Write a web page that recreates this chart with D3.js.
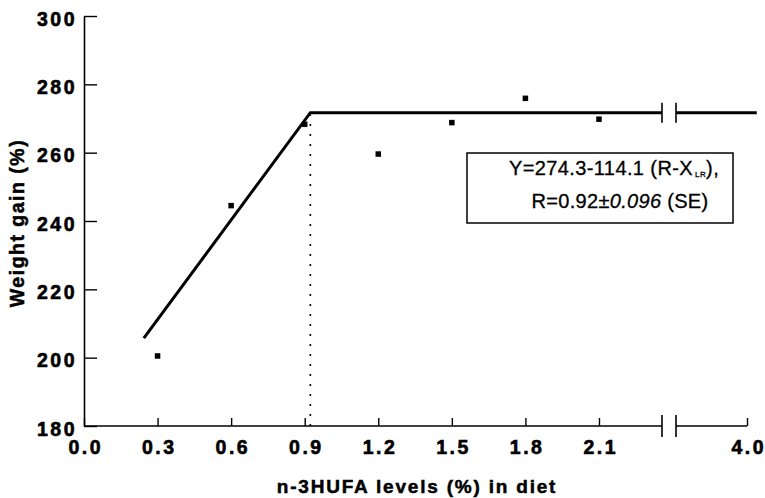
<!DOCTYPE html>
<html>
<head>
<meta charset="utf-8">
<script src="https://cdn.jsdelivr.net/npm/d3@7"></script>
<style>
  html, body { margin: 0; padding: 0; background: #fff; }
  svg { display: block; font-family: "Liberation Sans", Arial, Helvetica, sans-serif; }
</style>
</head>
<body>
<svg id="chart" width="765" height="498"></svg>
<script>
// ---- data ----
const xLevels   = [0.3, 0.6, 0.9, 1.2, 1.5, 1.8, 2.1];
const weightGain = [200.5, 244.5, 268.3, 259.6, 268.8, 275.9, 269.8];
const fitX = [0.244, 0.923, 2.357, null, 3.71, 4.04];
const fitY = [205.7, 271.7, 271.7, null, 271.7, 271.7];
const breakPoint = 0.923;      // X(LR)
const plateau = 271.7;
const axisBreak = [2.357, 3.71];
const xTicks = [0.0, 0.3, 0.6, 0.9, 1.2, 1.5, 1.8, 2.1, 4.0];
const yTicks = [180, 200, 220, 240, 260, 280, 300];
const xTitle = "n-3HUFA levels (%) in diet";
const yTitle = "Weight gain  (%)";

// ---- scales ----
const svg = d3.select("#chart");
const x = d3.scaleLinear()
  .domain([0, axisBreak[0], axisBreak[1], 4.0])
  .range([84, 662, 676, 747]);
const y = d3.scaleLinear().domain([180, 300]).range([426, 16]);

const FONT = "'Liberation Sans', Arial, sans-serif";

// ---- y axis ----
const yAx = svg.append("g").attr("transform", "translate(84,0)")
  .call(d3.axisLeft(y).tickValues(yTicks).tickSizeInner(-13).tickSizeOuter(0).tickPadding(8).tickFormat(d3.format("d")));
yAx.select(".domain").attr("stroke", "#000").attr("stroke-width", 1.6);
yAx.selectAll(".tick line").attr("stroke", "#000").attr("stroke-width", 1.4);
yAx.selectAll(".tick text")
  .attr("fill", "#000").attr("font-weight", "bold")
  .attr("stroke", "#000").attr("stroke-width", 0.6)
  .attr("font-size", "19.5px").attr("letter-spacing", "2.5px")
  .attr("font-family", FONT)
  .attr("dy", 9).attr("x", -7);

// ---- x axis ----
const xAx = svg.append("g").attr("transform", "translate(0,426)")
  .call(d3.axisBottom(x).tickValues(xTicks).tickSizeInner(-8).tickSizeOuter(0).tickFormat(d3.format(".1f")));
xAx.select(".domain").remove();
xAx.selectAll(".tick line").attr("stroke", "#000").attr("stroke-width", 1.4);
xAx.selectAll(".tick text")
  .attr("fill", "#000").attr("font-weight", "bold")
  .attr("stroke", "#000").attr("stroke-width", 0.6)
  .attr("font-size", "19.5px").attr("letter-spacing", "2.5px")
  .attr("font-family", FONT)
  .attr("y", 28).attr("dy", 0).attr("dx", 1.2);
// broken axis line
[[0, axisBreak[0]], [axisBreak[1], 4.0]].forEach(seg => {
  svg.append("line")
    .attr("x1", x(seg[0])).attr("x2", x(seg[1]))
    .attr("y1", y(180)).attr("y2", y(180))
    .attr("stroke", "#000").attr("stroke-width", 1.6);
});
axisBreak.forEach(b => {
  svg.append("line")
    .attr("x1", x(b)).attr("x2", x(b))
    .attr("y1", y(180) - 11).attr("y2", y(180) + 11)
    .attr("stroke", "#000").attr("stroke-width", 1.6);
});

// ---- dotted reference line ----
svg.append("line")
  .attr("x1", x(breakPoint)).attr("x2", x(breakPoint))
  .attr("y1", y(180)).attr("y2", y(plateau) + 2)
  .attr("stroke", "#000").attr("stroke-width", 1.6)
  .attr("stroke-dasharray", "2,8");

// ---- fitted broken line ----
const fitData = fitX.map((v, i) => ({ x: v, y: fitY[i] }));
svg.append("path")
  .datum(fitData)
  .attr("fill", "none").attr("stroke", "#000").attr("stroke-width", 3)
  .attr("stroke-linejoin", "miter")
  .attr("d", d3.line().defined(d => d.x !== null).x(d => x(d.x)).y(d => y(d.y)));
axisBreak.forEach(b => {
  svg.append("line")
    .attr("x1", x(b)).attr("x2", x(b))
    .attr("y1", y(plateau) - 10).attr("y2", y(plateau) + 10)
    .attr("stroke", "#000").attr("stroke-width", 1.6);
});

// ---- points ----
svg.append("g").selectAll("rect")
  .data(xLevels.map((v, i) => ({ x: v, y: weightGain[i] })))
  .join("rect")
  .attr("x", d => x(d.x) - 2.75).attr("y", d => y(d.y) - 2.75)
  .attr("width", 5.5).attr("height", 5.5).attr("fill", "#000");

// ---- equation box ----
svg.append("rect")
  .attr("x", 467).attr("y", 153).attr("width", 266).attr("height", 70)
  .attr("fill", "#fff").attr("stroke", "#000").attr("stroke-width", 1.5);
const eq1 = svg.append("text")
  .attr("x", 614).attr("y", 175).attr("text-anchor", "middle")
  .attr("stroke", "#000").attr("stroke-width", 0.3)
  .attr("font-size", "20px").attr("letter-spacing", "0.4px").attr("fill", "#000");
eq1.append("tspan").text("Y=274.3-114.1 (R-X");
eq1.append("tspan").attr("font-size", "8px").attr("dy", 2).attr("dx", 2).text("LR");
eq1.append("tspan").attr("dy", -2).text("),");
const eq2 = svg.append("text")
  .attr("x", 620).attr("y", 208).attr("text-anchor", "middle")
  .attr("stroke", "#000").attr("stroke-width", 0.3)
  .attr("font-size", "20px").attr("letter-spacing", "0.3px").attr("fill", "#000");
eq2.append("tspan").text("R=0.92");
eq2.append("tspan").text("±");
eq2.append("tspan").attr("font-style", "italic").text("0.096");
eq2.append("tspan").text(" (SE)");

// ---- axis titles ----
svg.append("text")
  .attr("transform", "translate(24,223) rotate(-90)")
  .attr("text-anchor", "middle")
  .attr("stroke", "#000").attr("stroke-width", 0.5)
  .attr("font-size", "19.5px").attr("font-weight", "bold").attr("letter-spacing", "1.5px")
  .attr("fill", "#000").text(yTitle);
svg.append("text")
  .attr("x", 417).attr("y", 493).attr("text-anchor", "middle")
  .attr("stroke", "#000").attr("stroke-width", 0.5)
  .attr("font-size", "19px").attr("font-weight", "bold").attr("letter-spacing", "1.8px")
  .attr("fill", "#000").text(xTitle);
</script>
</body>
</html>
